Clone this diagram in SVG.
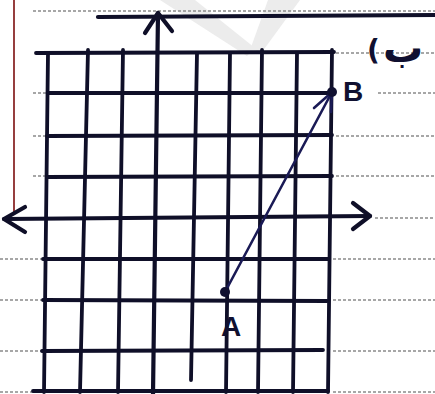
<svg xmlns="http://www.w3.org/2000/svg" width="435" height="394" viewBox="0 0 435 394">
<style>
.ruled{stroke:#8a8a8a;stroke-width:1.6;stroke-dasharray:3 2;fill:none}
.grid{stroke:#0f0f28;stroke-width:3.8;stroke-linecap:round;fill:none}
.axis{stroke:#0f0f28;stroke-width:4.2;stroke-linecap:round;stroke-linejoin:round;fill:none}
.seg{stroke:#1a1a55;stroke-width:2.6;stroke-linecap:round;fill:none}
.lbl{font-family:"Liberation Sans",Arial,sans-serif;font-weight:bold;fill:#101030}
</style>
<rect width="435" height="394" fill="#ffffff"/>
<!-- watermark -->
<g id="watermark" fill="#ececec">
<polygon points="160,0 195,0 255,48 247,56"/>
<polygon points="268,0 300,0 262,52 250,50"/>
</g>
<!-- notebook paper -->
<g id="paper">
<line x1="14" y1="0" x2="14" y2="213" stroke="#8b2a2a" stroke-width="1.8"/>
<line class="ruled" x1="33" y1="11" x2="435" y2="11"/>
<line class="ruled" x1="336" y1="53" x2="435" y2="53"/>
<line class="ruled" x1="33" y1="93" x2="48" y2="93"/>
<line class="ruled" x1="378" y1="93" x2="435" y2="93"/>
<line class="ruled" x1="33" y1="136" x2="48" y2="136"/>
<line class="ruled" x1="336" y1="136" x2="435" y2="136"/>
<line class="ruled" x1="33" y1="176" x2="48" y2="176"/>
<line class="ruled" x1="336" y1="176" x2="435" y2="176"/>
<line class="ruled" x1="375" y1="218" x2="435" y2="218"/>
<line class="ruled" x1="0" y1="259" x2="44" y2="259"/>
<line class="ruled" x1="333" y1="259" x2="435" y2="259"/>
<line class="ruled" x1="0" y1="300" x2="44" y2="300"/>
<line class="ruled" x1="333" y1="300" x2="435" y2="300"/>
<line class="ruled" x1="0" y1="351" x2="44" y2="351"/>
<line class="ruled" x1="333" y1="351" x2="435" y2="351"/>
<line class="ruled" x1="0" y1="392" x2="33" y2="392"/>
<line class="ruled" x1="333" y1="392" x2="435" y2="392"/>
</g>
<!-- grid -->
<g id="grid" class="grid">
<line x1="48" y1="53" x2="44" y2="392"/>
<line x1="88" y1="50" x2="80" y2="392"/>
<line x1="123" y1="50" x2="118" y2="392"/>
<line x1="197" y1="53" x2="191" y2="380"/>
<line x1="230" y1="53" x2="226" y2="392"/>
<line x1="262" y1="50" x2="258" y2="392"/>
<line x1="297" y1="53" x2="293" y2="392"/>
<line x1="332" y1="50" x2="328" y2="392"/>
<line x1="36" y1="53" x2="334" y2="52"/>
<line x1="48" y1="93" x2="333" y2="93"/>
<line x1="47" y1="136" x2="332" y2="135"/>
<line x1="47" y1="177" x2="332" y2="176"/>
<line x1="43" y1="259" x2="328" y2="259"/>
<line x1="43" y1="300" x2="327" y2="301"/>
<line x1="42" y1="351" x2="323" y2="350"/>
<line x1="33" y1="391" x2="328" y2="391"/>
</g>
<!-- axes -->
<g id="axes" class="axis">
<line x1="98" y1="17" x2="435" y2="15"/>
<line x1="158" y1="13" x2="153" y2="394"/>
<polyline points="145,33 158,13 172,31"/>
<line x1="4" y1="219" x2="370" y2="216"/>
<polyline points="25,207 4,219 25,232"/>
<polyline points="353,203 370,216 353,229"/>
</g>
<!-- connectors -->
<g id="connectors">
<line class="seg" x1="225" y1="292" x2="332" y2="92"/>
<polyline class="seg" points="314,108 332,92 331,112"/>
</g>
<!-- nodes -->
<g id="node-A">
<circle cx="225" cy="292" r="5" fill="#101030"/>
<text class="lbl" x="221" y="336" font-size="28">A</text>
</g>
<g id="node-B">
<circle cx="332" cy="92" r="5" fill="#101030"/>
<text class="lbl" x="343" y="101" font-size="28">B</text>
</g>
<g id="note" font-family="DejaVu Sans, sans-serif" fill="#101030" font-weight="bold">
<text x="367" y="60" font-size="28">(</text>
<text x="383" y="62" font-size="40">ب</text>
</g>
</svg>
